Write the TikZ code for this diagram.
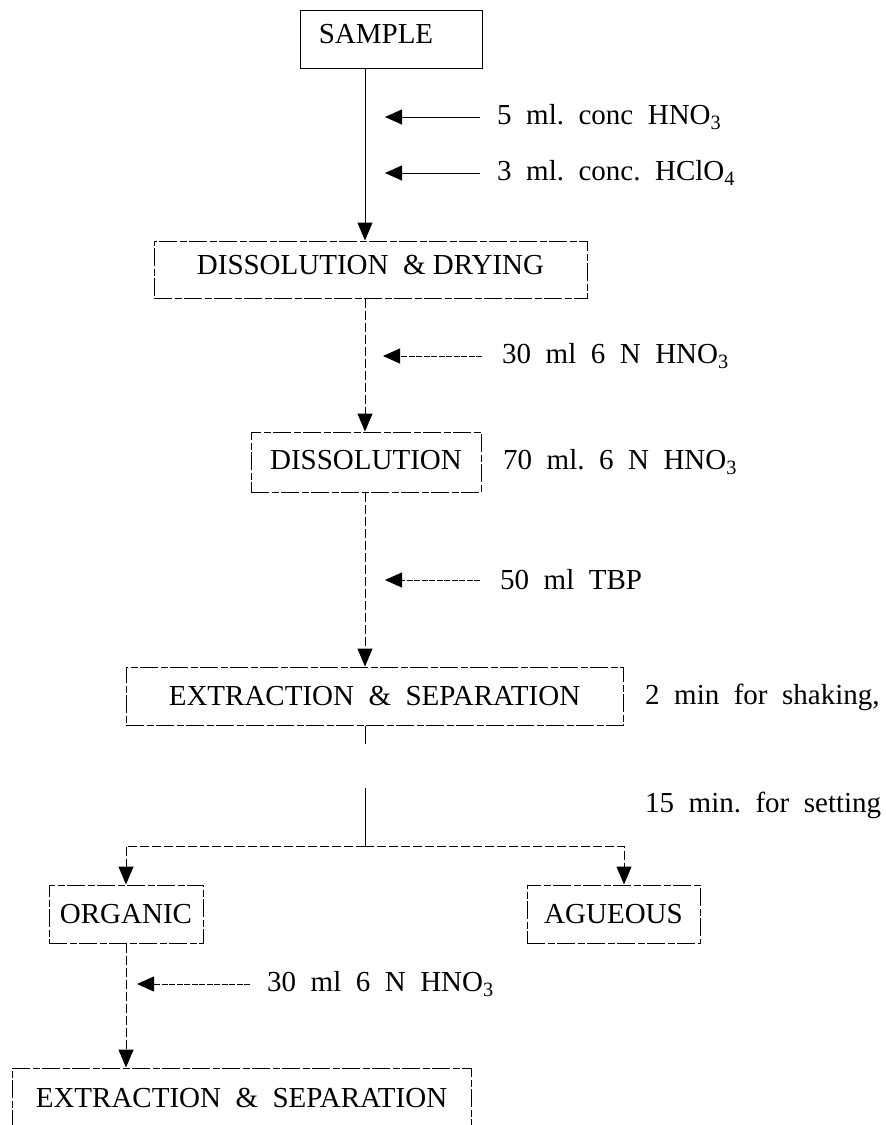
\documentclass[tikz,border=0pt]{standalone}
\usepackage{fontspec}
\setmainfont{Liberation Serif}
\usetikzlibrary{arrows.meta}
\begin{document}
\begin{tikzpicture}[x=1pt,y=-1pt,
  every node/.style={font=\fontsize{29pt}{34pt}\selectfont},
  sbox/.style={draw, line width=1pt, inner sep=0pt},
  dbox/.style={draw, line width=1pt, inner sep=0pt, dash pattern=on 18pt off 2.5pt on 7pt off 2.5pt},
  lbl/.style={anchor=west, inner sep=0pt},
  flow/.style={line width=1pt, -{Triangle[length=18pt,width=15pt]}},
  feed/.style={line width=1pt, -{Triangle[length=17pt,width=15pt]}},
  brk/.style={dash pattern=on 9pt off 3pt},
  fine/.style={dash pattern=on 6pt off 1.5pt},
]
\useasboundingbox (0,0) rectangle (886,1125);
\clip (0,0) rectangle (886,1125);

% process boxes
\node[sbox, minimum width=182pt, minimum height=58pt, text depth=10pt] (sample) at (391,39) {SAMPLE\kern30pt};
\node[dbox, minimum width=433pt, minimum height=57pt, text depth=10pt] (dd) at (370.5,269.5) {DISSOLUTION~~\&~DRYING};
\node[dbox, minimum width=230pt, minimum height=60pt, text depth=4pt] (diss) at (366,462) {DISSOLUTION};
\node[dbox, minimum width=497pt, minimum height=58pt] (ext1) at (374.5,696) {EXTRACTION~~\&~~SEPARATION};
\node[dbox, minimum width=154pt, minimum height=58pt] (org) at (126,914) {ORGANIC};
\node[dbox, minimum width=173pt, minimum height=58pt] (aq) at (613.5,914) {AGUEOUS};
\node[dbox, minimum width=459pt, minimum height=60pt] (ext2) at (241.5,1098) {EXTRACTION~~\&~~SEPARATION};

% helper coordinates
\coordinate (mx) at (365,0);
\coordinate (aqx) at (624,0);
\coordinate (split) at (365,846);

% main flow
\draw[flow] (sample.south -| mx) -- (dd.north -| mx);
\draw[flow, brk] (dd.south -| mx) -- (diss.north -| mx);
\draw[flow, brk] (diss.south -| mx) -- (ext1.north -| mx);
\draw[line width=1pt, dash pattern=on 18pt off 44pt on 100pt] (ext1.south -| mx) -- (split);
\draw[flow, brk] (split) -| (org.north);
\draw[flow, brk] (split) -| (aq.north -| aqx);
\draw[flow, brk] (org.south) -- (ext2.north -| org.south);

% reagent labels and feed arrows
\coordinate (p1) at (385,117);
\coordinate (p2) at (385,173);
\coordinate (p3) at (383,356);
\coordinate (p5) at (385,580);
\coordinate (p8) at (137,984);

\node[lbl] (t1) at (497,117) {5~~ml.~~conc~~HNO\textsubscript{3}};
\node[lbl] (t2) at (497,173) {3~~ml.~~conc.~~HClO\textsubscript{4}};
\node[lbl] (t3) at (502,356) {30~~ml~~6~~N~~HNO\textsubscript{3}};
\node[lbl] (t4) at (503,462) {70~~ml.~~6~~N~~HNO\textsubscript{3}};
\node[lbl] (t5) at (500,580) {50~~ml~~TBP};
\node[lbl] (t6) at (645,697) {2~~min~~for~~shaking,};
\node[lbl] (t7) at (645,805) {15~~min.~~for~~setting};
\node[lbl] (t8) at (267,984) {30~~ml~~6~~N~~HNO\textsubscript{3}};

\draw[feed, shorten <=17pt] (t1.west) -- (p1);
\draw[feed, shorten <=17pt] (t2.west) -- (p2);
\draw[feed, fine, shorten <=20pt] (t3.west) -- (p3);
\draw[feed, fine, shorten <=20pt] (t5.west) -- (p5);
\draw[feed, fine, shorten <=17pt] (t8.west) -- (p8);
\end{tikzpicture}
\end{document}
